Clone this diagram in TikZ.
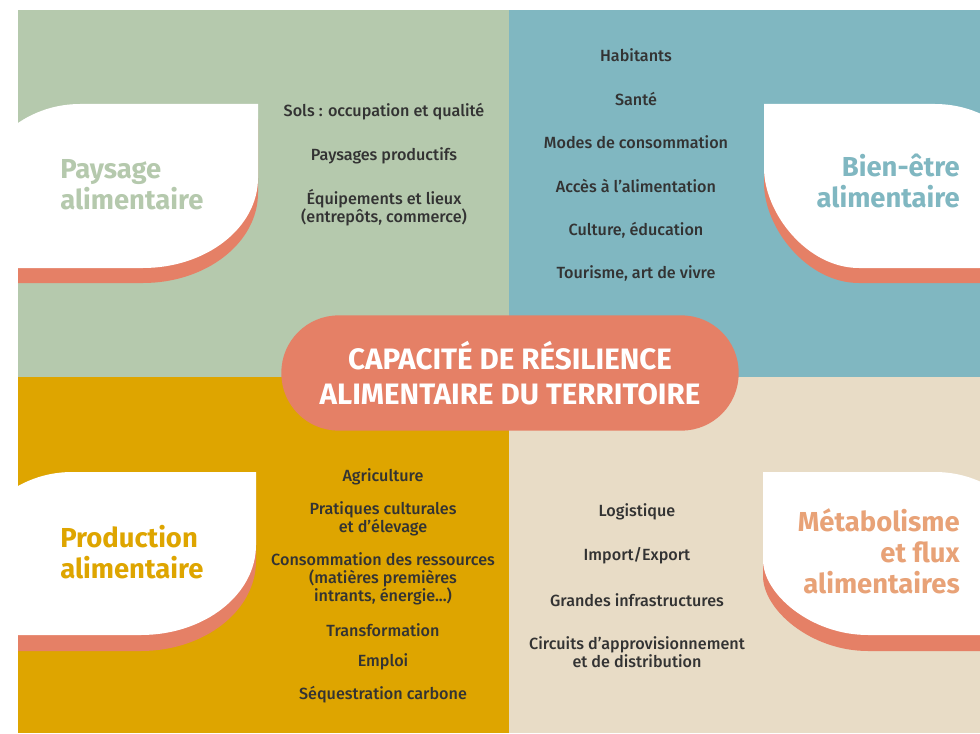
\documentclass[tikz,border=0pt]{standalone}
\usepackage{fontspec}
\setmainfont{Fira Sans}
\newfontfamily\itemfont{Fira Sans Medium}

\definecolor{sage}{HTML}{B5C9AD}
\definecolor{lagoon}{HTML}{80B7C1}
\definecolor{mustard}{HTML}{DEA500}
\definecolor{sand}{HTML}{E8DCC6}
\definecolor{salmon}{HTML}{E58066}
\definecolor{apricot}{HTML}{E8A277}
\definecolor{ink}{HTML}{333333}

\tikzset{
    card/.style = {fill = white},
    cardshadow/.style = {fill = salmon},
    theme/.style = {inner sep = 0pt, font = \bfseries\fontsize{19.5}{22}\selectfont},
    item/.style = {inner sep = 0pt, align = center, text = ink, font = \itemfont\fontsize{11.5}{12.8}\selectfont},
    core/.style = {fill = salmon, text = white, align = center, inner sep = 0pt,
        minimum width = 11.43cm, minimum height = 2.88cm, rounded corners = 1.43cm,
        font = \bfseries\fontsize{21}{24.8}\selectfont}
}

% card outlines, in pixels of the layout
\newcommand\leafpaysage{(-30, 465) -- (-30, 519) .. controls (-30, 580) and (19, 629) .. (80, 629) -- (258, 629) -- (258, 555) .. controls (258, 505) and (206, 465) .. (143, 465) -- cycle}
\newcommand\leafbienetre{(764, 629) -- (935, 629) .. controls (996, 629) and (1045, 580) .. (1045, 519) -- (1045, 465) -- (859, 465) .. controls (807, 465) and (764, 520) .. (764, 565) -- cycle}
\newcommand\leafproduction{(-38, 98) -- (-38, 151) .. controls (-38, 212) and (11, 261) .. (72, 261) -- (256, 261) -- (256, 188) .. controls (256, 138) and (204, 98) .. (141, 98) -- cycle}
\newcommand\leafmetabolisme{(763, 261) -- (935, 261) .. controls (996, 261) and (1045, 212) .. (1045, 151) -- (1045, 98) -- (868, 98) .. controls (811, 98) and (763, 139) .. (763, 173) -- cycle}

\begin{document}
\begin{tikzpicture}[x = 0.025cm, y = 0.025cm]
    \useasboundingbox (0, 0) rectangle (980, 733);

    \fill [sage] (18, 356) rectangle (509, 723);
    \fill [lagoon] (509, 356) rectangle (980, 723);
    \fill [mustard] (18, 0) rectangle (509, 356);
    \fill [sand] (509, 0) rectangle (980, 356);

    \begin{scope}
        \clip (18, 0) rectangle (980, 723);
        \fill [cardshadow, shift = {(0, -15)}] \leafpaysage;
        \fill [card] \leafpaysage;
        \fill [cardshadow, shift = {(0, -15)}] \leafbienetre;
        \fill [card] \leafbienetre;
        \fill [cardshadow, shift = {(0, -16)}] \leafproduction;
        \fill [card] \leafproduction;
        \fill [cardshadow, shift = {(0, -16)}] \leafmetabolisme;
        \fill [card] \leafmetabolisme;
    \end{scope}

    \node [theme, text = sage, anchor = west, align = left] (paysage) at (60, 548) {Paysage\\alimentaire};
    \node [theme, text = lagoon, anchor = east, align = right] (bienetre) at (960, 552) {Bien-être\\alimentaire};
    \node [theme, text = mustard, anchor = west, align = left] (production) at (60, 181) {Production\\alimentaire};
    \node [theme, text = apricot, anchor = east, align = right] (metabolisme) at (960, 182) {Métabolisme\\et flux\\alimentaires};

    %%%%%%%%%%%%%%%%%%%%
    \node [item] (sols) at (384, 621) {Sols : occupation et qualité};
    \node [item] (productifs) at (384, 577) {Paysages productifs};
    \node [item] (lieux) at (384, 525) {Équipements et lieux\\(entrepôts, commerce)};

    \node [item] (habitants) at (636, 678) {Habitants};
    \node [item] (sante) at (636, 634) {Santé};
    \node [item] (modes) at (636, 591) {Modes de consommation};
    \node [item] (acces) at (636, 547) {Accès à l’alimentation};
    \node [item] (culture) at (636, 503) {Culture, éducation};
    \node [item] (tourisme) at (636, 460) {Tourisme, art de vivre};

    \node [item] (agriculture) at (383, 256) {Agriculture};
    \node [item] (pratiques) at (383, 214) {Pratiques culturales\\et d’élevage};
    \node [item] (ressources) at (383, 154) {Consommation des ressources\\(matières premières\\intrants, énergie...)};
    \node [item] (transformation) at (383, 103) {Transformation};
    \node [item] (emploi) at (383, 71) {Emploi};
    \node [item] (carbone) at (383, 38) {Séquestration carbone};

    \node [item] (logistique) at (637, 221) {Logistique};
    \node [item] (import) at (637, 177) {Import/Export};
    \node [item] (infra) at (637, 133) {Grandes infrastructures};
    \node [item] (circuits) at (637, 81) {Circuits d’approvisionnement\\et de distribution};

    %%%%%%%%%%%%%%%%%%%%
    \node [core] (core) at (510, 360) {CAPACITÉ DE RÉSILIENCE\\ALIMENTAIRE DU TERRITOIRE};
\end{tikzpicture}
\end{document}
